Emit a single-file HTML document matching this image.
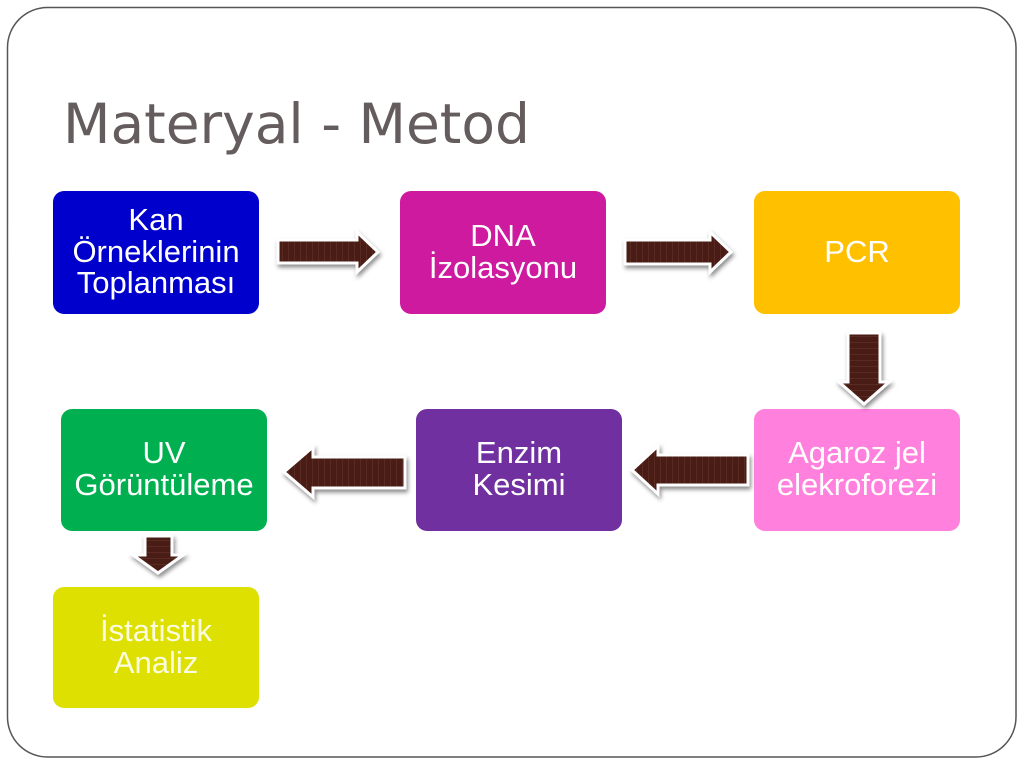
<!DOCTYPE html>
<html>
<head>
<meta charset="utf-8">
<style>
  html, body { margin:0; padding:0; background:#ffffff; }
  body { width:1024px; height:768px; overflow:hidden; }
  svg { display:block; }
</style>
</head>
<body>
<svg width="1024" height="768" viewBox="0 0 1024 768" xmlns="http://www.w3.org/2000/svg">
  <defs>
    <pattern id="vstripe" width="6" height="10" patternUnits="userSpaceOnUse">
      <rect width="6" height="10" fill="#4a1d14"/>
      <rect x="0" y="0" width="1" height="10" fill="#7a4a3e" opacity="0.3"/>
    </pattern>
    <pattern id="hstripe" width="10" height="6" patternUnits="userSpaceOnUse">
      <rect width="10" height="6" fill="#4a1d14"/>
      <rect x="0" y="0" width="10" height="1" fill="#7a4a3e" opacity="0.3"/>
    </pattern>
    <filter id="sh" x="-20%" y="-30%" width="140%" height="170%">
      <feDropShadow dx="1.5" dy="3" stdDeviation="2" flood-color="#000" flood-opacity="0.45"/>
    </filter>
  </defs>

  <!-- slide border -->
  <rect x="7.5" y="7.5" width="1008.5" height="749.5" rx="40" ry="40" fill="none" stroke="#555" stroke-width="1.5"/>

  <!-- title -->
  <text x="63" y="143" font-family="'DejaVu Sans', 'Liberation Sans', sans-serif" font-size="55" fill="#645c5d">Materyal - Metod</text>

  <!-- boxes -->
  <rect x="53" y="191" width="206" height="123" rx="11" fill="#0000cc"/>
  <rect x="400" y="191" width="206" height="123" rx="11" fill="#cd1a9f"/>
  <rect x="754" y="191" width="206" height="123" rx="11" fill="#ffc000"/>
  <rect x="754" y="409" width="206" height="122" rx="11" fill="#ff80dd"/>
  <rect x="416" y="409" width="206" height="122" rx="11" fill="#7030a0"/>
  <rect x="61" y="409" width="206" height="122" rx="11" fill="#00b050"/>
  <rect x="53" y="587" width="206" height="121" rx="11" fill="#dde000"/>

  <g font-family="'Liberation Sans', Arial, sans-serif" font-size="31" fill="#ffffff" text-anchor="middle">
    <text x="156" y="230">Kan</text>
    <text x="156" y="262">Örneklerinin</text>
    <text x="156" y="293">Toplanması</text>

    <text x="503" y="246">DNA</text>
    <text x="503" y="278">İzolasyonu</text>

    <text x="857" y="262">PCR</text>

    <text x="857" y="463">Agaroz jel</text>
    <text x="857" y="495">elekroforezi</text>

    <text x="519" y="463">Enzim</text>
    <text x="519" y="495">Kesimi</text>

    <text x="164" y="463">UV</text>
    <text x="164" y="495">Görüntüleme</text>

    <text x="156" y="641" fill="#fbfbe0">İstatistik</text>
    <text x="156" y="673" fill="#fbfbe0">Analiz</text>
  </g>

  <!-- arrows -->
  <g stroke="#ffffff" stroke-width="3" stroke-linejoin="miter" filter="url(#sh)">
    <polygon fill="url(#vstripe)" points="278,240 357,240 357,232 378,252 357,272 357,263 278,263"/>
    <polygon fill="url(#vstripe)" points="625,240 710,240 710,232 731,252 710,272 710,264 625,264"/>
    <polygon fill="url(#hstripe)" points="848,333 880,333 880,382 889,382 864,404 839,382 848,382"/>
    <polygon fill="url(#vstripe)" points="748,455 658,455 658,446 632,470 658,494 658,485 748,485"/>
    <polygon fill="url(#vstripe)" points="405,457 313,457 313,447 284,472 313,497 313,488 405,488"/>
    <polygon fill="url(#hstripe)" points="145,536 172,536 172,555 183,555 158,573 133,555 145,555"/>
  </g>
</svg>
</body>
</html>
